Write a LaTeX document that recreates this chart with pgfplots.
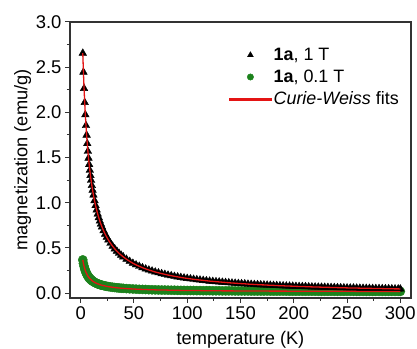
\documentclass[border=0pt]{standalone}
\usepackage{pgfplots}
\usepackage{pgfplotstable}
\pgfplotsset{compat=1.18}
\usetikzlibrary{calc}
\usepackage{fontspec}
\setmainfont{Liberation Sans}
\definecolor{mygreen}{RGB}{28,130,28}
\definecolor{myred}{RGB}{228,20,20}
\pgfplotstableread{
T M1 M01
2 2.655 0.367
2.6 2.445 0.327
3.2 2.264 0.296
3.8 2.109 0.270
4.4 1.973 0.248
5 1.854 0.230
5.6 1.748 0.214
6.2 1.654 0.201
6.8 1.569 0.189
7.4 1.492 0.178
8 1.422 0.169
8.6 1.359 0.161
9.2 1.301 0.153
9.8 1.248 0.147
10.5 1.190 0.139
11.2 1.138 0.133
12 1.084 0.126
13 1.023 0.119
14 0.968 0.113
15 0.919 0.107
16 0.874 0.102
17 0.834 0.098
18 0.797 0.093
19 0.763 0.090
20 0.732 0.086
21.5 0.690 0.082
23 0.652 0.078
24.5 0.618 0.074
26 0.587 0.071
28 0.551 0.067
30 0.518 0.064
32 0.489 0.061
34 0.463 0.058
36 0.440 0.056
38 0.419 0.053
40 0.400 0.052
43 0.374 0.049
46 0.351 0.047
49 0.330 0.045
52 0.312 0.043
55 0.296 0.041
58 0.281 0.040
61 0.267 0.039
64 0.255 0.037
67 0.244 0.036
70 0.233 0.035
73 0.224 0.034
76 0.215 0.033
79 0.207 0.033
82 0.199 0.032
85 0.192 0.031
88 0.185 0.031
91 0.179 0.030
94 0.173 0.029
97 0.167 0.029
100 0.162 0.028
103 0.157 0.028
106 0.152 0.028
109 0.148 0.027
112 0.144 0.027
115 0.140 0.026
118 0.136 0.026
121 0.132 0.026
124 0.129 0.025
127 0.126 0.025
130 0.123 0.025
133 0.120 0.024
136 0.117 0.024
139 0.114 0.024
142 0.111 0.024
145 0.109 0.023
148 0.106 0.023
151 0.104 0.023
154 0.102 0.023
157 0.099 0.023
160 0.097 0.022
163 0.095 0.022
166 0.093 0.022
169 0.091 0.022
172 0.090 0.022
175 0.088 0.022
178 0.086 0.021
181 0.085 0.021
184 0.083 0.021
187 0.081 0.021
190 0.080 0.021
193 0.078 0.021
196 0.077 0.020
199 0.076 0.020
202 0.074 0.020
205 0.073 0.020
208 0.072 0.020
211 0.071 0.020
214 0.069 0.020
217 0.068 0.020
220 0.067 0.020
223 0.066 0.019
226 0.065 0.019
229 0.064 0.019
232 0.063 0.019
235 0.062 0.019
238 0.061 0.019
241 0.060 0.019
244 0.059 0.019
247 0.058 0.019
250 0.057 0.019
253 0.056 0.019
256 0.056 0.019
259 0.055 0.018
262 0.054 0.018
265 0.053 0.018
268 0.052 0.018
271 0.052 0.018
274 0.051 0.018
277 0.050 0.018
280 0.050 0.018
283 0.049 0.018
286 0.048 0.018
289 0.048 0.018
292 0.047 0.018
295 0.046 0.018
298 0.046 0.018
300 0.045 0.018
}\datatable
\begin{document}
\begin{tikzpicture}
\begin{axis}[
  set layers,
  scale only axis, width=341bp, height=276bp,
  xmin=-10, xmax=310, ymin=-0.055, ymax=3.0,
  xtick={0,50,100,150,200,250,300},
  ytick={0,0.5,1,1.5,2,2.5,3},
  minor x tick num=1, minor y tick num=1,
  xtick pos=bottom, ytick pos=left,
  tick align=outside,
  major tick length=5bp, minor tick length=3bp,
  axis line style={line width=1.1bp, black!80},
  every tick/.style={line width=1bp, black!80},
  font=\fontsize{18.5}{21}\selectfont,
  /pgf/number format/assume math mode=true,
  yticklabel style={/pgf/number format/.cd, fixed, fixed zerofill, precision=1},
  xlabel={temperature (K)}, ylabel={magnetization (emu/g)},
  xlabel style={at={(axis description cs:0.5,-0.152)}, anchor=center, font=\fontsize{18.3}{21}\selectfont},
  ylabel style={at={(axis description cs:-0.139,0.5)}, anchor=center, font=\fontsize{18.3}{21}\selectfont},
  legend style={at={(1,1)}, anchor=north east, xshift=-7bp, yshift=-22bp,
    fill=none, draw=none, row sep=4bp, font=\fontsize{18}{20}\selectfont},
  legend cell align=left,
]
\addplot[forget plot, only marks, mark=*, mark size=4.6bp, mark options={draw=mygreen, fill=mygreen}] table[x=T, y=M01] {\datatable};
\addplot[forget plot, only marks, mark=triangle*, mark size=4.4bp, mark options={draw=black, fill=black}] table[x=T, y=M1] {\datatable};
\addplot[forget plot, on layer=axis foreground, draw=myred, line width=1.3bp] table[x=T, y=M1] {\datatable};
\addplot[forget plot, on layer=axis foreground, draw=myred, line width=1.3bp] table[x=T, y=M01] {\datatable};
\addlegendimage{legend image code/.code={\draw[black, fill=black] plot[mark=triangle*, mark size=3.4bp] coordinates {(21bp,0bp)};}}
\addlegendentry{\textbf{1a}, 1 T}
\addlegendimage{legend image code/.code={\draw[mygreen, fill=mygreen] plot[mark=*, mark size=3.2bp] coordinates {(21bp,0bp)};}}
\addlegendentry{\textbf{1a}, 0.1 T}
\addlegendimage{legend image code/.code={\fill[myred] (0bp,-0.65bp) rectangle (42bp,0.65bp);}}
\addlegendentry{\textit{Curie-Weiss} fits}
\end{axis}
\pgfresetboundingbox
\path ($(current axis.south west)+(-70bp,-51bp)$) rectangle ($(current axis.north east)+(6bp,22bp)$);
\end{tikzpicture}
\end{document}
